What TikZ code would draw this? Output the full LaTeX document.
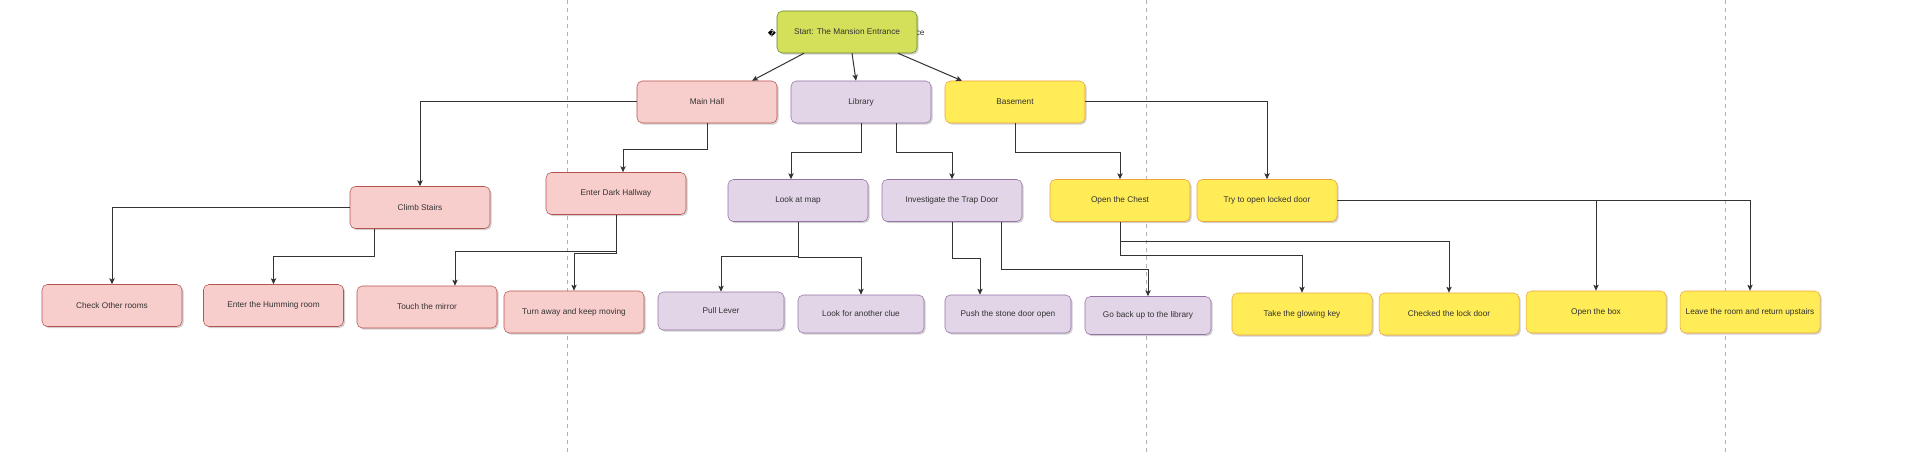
\documentclass[tikz,border=0pt]{standalone}
\usepackage{fontspec}
\setmainfont{Liberation Sans}
\newfontfamily\symfont{DejaVu Sans}
\usetikzlibrary{calc,shadows,arrows.meta}
\definecolor{pinkfill}{HTML}{F8CECC}
\definecolor{pinkline}{HTML}{B85450}
\definecolor{purplefill}{HTML}{E1D5E7}
\definecolor{purpleline}{HTML}{9673A6}
\definecolor{yellowfill}{HTML}{FFEC57}
\definecolor{yellowline}{HTML}{EDA33A}
\definecolor{greenfill}{HTML}{D4E05A}
\definecolor{greenline}{HTML}{60852A}
\definecolor{textgray}{HTML}{333333}
\definecolor{linegray}{HTML}{333333}
\begin{document}
\begin{tikzpicture}[x=0.75pt, y=-0.75pt,
	box/.style={draw, rounded corners=4pt, minimum width=105pt, minimum height=31.5pt, inner sep=0pt, text=textgray, font=\fontsize{6.2}{7.5}\selectfont, drop shadow={shadow xshift=1.2pt, shadow yshift=-1.2pt, opacity=0.18, fill=black}},
	smallbox/.style={minimum width=94.5pt, minimum height=28.5pt},
	startbox/.style={box, fill=greenfill, draw=greenline},
	hallbox/.style={box, fill=pinkfill, draw=pinkline},
	librarybox/.style={box, fill=purplefill, draw=purpleline},
	basementbox/.style={box, fill=yellowfill, draw=yellowline},
	link/.style={draw=linegray, line width=0.75pt, -{Stealth[length=4.5pt, width=4pt, inset=1pt]}},
	pagebreak/.style={draw=black!30, dashed, line width=0.5pt}]
	\fill[white] (0,0) rectangle (1906,453);
	\useasboundingbox (0,0) rectangle (1906,453);
	\draw[pagebreak] (567,0) to (567,453);
	\draw[pagebreak] (1146,0) to (1146,453);
	\draw[pagebreak] (1725,0) to (1725,453);
	\node[inner sep=0pt, font=\symfont\fontsize{6}{6}\selectfont] (22) at (772, 33) {\char"FFFD};
	\node[inner sep=0pt, anchor=west, text=textgray, font=\fontsize{6.2}{7.5}\selectfont] (23) at (915.5, 33) {ce};
	\node[startbox] (0) at (847, 32) {Start: The Mansion Entrance};
	\node[hallbox] (1) at (707, 102) {Main Hall};
	\node[librarybox] (2) at (861, 102) {Library};
	\node[basementbox] (3) at (1015, 102) {Basement};
	\node[hallbox] (4) at (420, 207.5) {Climb Stairs};
	\node[hallbox] (5) at (616, 193.5) {Enter Dark Hallway};
	\node[librarybox] (6) at (798, 200.5) {Look at map};
	\node[librarybox] (7) at (952, 200.5) {Investigate the Trap Door};
	\node[basementbox] (8) at (1120, 200.5) {Open the Chest};
	\node[basementbox] (9) at (1267, 200.5) {Try to open locked door};
	\node[hallbox] (10) at (112, 305.5) {Check Other rooms};
	\node[hallbox] (11) at (273.5, 305.5) {Enter the Humming room};
	\node[hallbox] (12) at (427, 307) {Touch the mirror};
	\node[hallbox] (13) at (574, 312) {Turn away and keep moving};
	\node[librarybox, smallbox] (14) at (721, 311) {Pull Lever};
	\node[librarybox, smallbox] (15) at (861, 314) {Look for another clue};
	\node[librarybox, smallbox] (16) at (1008, 314) {Push the stone door open};
	\node[librarybox, smallbox] (17) at (1148, 315.5) {Go back up to the library};
	\node[basementbox] (18) at (1302, 314) {Take the glowing key};
	\node[basementbox] (19) at (1449, 314) {Checked the lock door};
	\node[basementbox] (20) at (1596, 312) {Open the box};
	\node[basementbox] (21) at (1750, 312) {Leave the room and return upstairs};
	\draw[link] ($(0.south)+(-43,0)$) to ($(1.north)+(45,0)$);
	\draw[link] ($(0.south)+(5,0)$) to ($(2.north)+(-5,0)$);
	\draw[link] ($(0.south)+(51,0)$) to ($(3.north)+(-53,0)$);
	\draw[link] (1.west) -| (4.north);
	\draw[link] (1.south) -- ++(0,26) -| ($(5.north)+(7,0)$);
	\draw[link] (2.south) -- ++(0,29) -| ($(6.north)+(-7,0)$);
	\draw[link] ($(2.south)+(35,0)$) -- ++(0,29) -| (7.north);
	\draw[link] (3.south) -- ++(0,29) -| (8.north);
	\draw[link] (3.east) -| (9.north);
	\draw[link] (4.west) -| (10.north);
	\draw[link] ($(4.south)+(-46,0)$) -- ++(0,28) -| (11.north);
	\draw[link] (5.south) -- ++(0,37) -| ($(12.north)+(28,0)$);
	\draw[link] (5.south) -- ++(0,38.5) -| (13.north);
	\draw[link] (6.south) -- ++(0,34.5) -| (14.north);
	\draw[link] (6.south) -- ++(0,36) -| (15.north);
	\draw[link] (7.south) -- ++(0,37) -| ($(16.north)+(-28,0)$);
	\draw[link] ($(7.south)+(49,0)$) -- ++(0,48) -| (17.north);
	\draw[link] (8.south) -- ++(0,34) -| (18.north);
	\draw[link] (8.south) -- ++(0,20) -| (19.north);
	\draw[link] (9.east) -| (20.north);
	\draw[link] (9.east) -| (21.north);
\end{tikzpicture}
\end{document}
